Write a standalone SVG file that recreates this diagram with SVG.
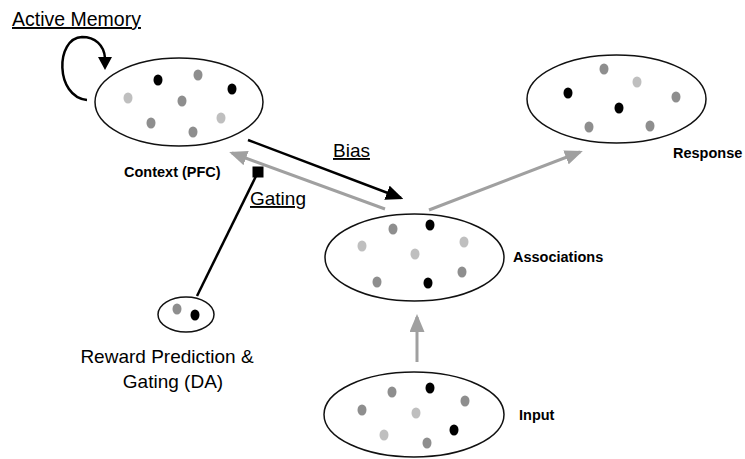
<svg xmlns="http://www.w3.org/2000/svg" width="745" height="459" viewBox="0 0 745 459">
<style>
.pool{fill:#fff;stroke:#111;stroke-width:1.5}
.k{fill:#000}.g{fill:#8e8e8e}.l{fill:#bfbfbf}
.lbl{font-family:"Liberation Sans",Arial,sans-serif;font-weight:bold;font-size:14.5px;fill:#000}
.ul{font-family:"Liberation Sans",Arial,sans-serif;font-size:19px;fill:#000;text-decoration:underline}
.txt{font-family:"Liberation Sans",Arial,sans-serif;font-size:19px;fill:#000}
.gl{stroke:#a0a0a0;stroke-width:3;fill:none}
.bl{stroke:#000;stroke-width:2.5;fill:none}
</style>
<defs>
<marker id="ag" markerWidth="6" markerHeight="5" refX="5" refY="2.5" orient="auto" markerUnits="strokeWidth"><path d="M0,0 L6,2.5 L0,5 Z" fill="#a0a0a0"/></marker>
<marker id="ab" markerWidth="7" markerHeight="6" refX="6" refY="3" orient="auto" markerUnits="strokeWidth"><path d="M0,0 L7,3 L0,6 Z" fill="#000"/></marker>
</defs>
<g id="connectors">
<path class="gl" d="M385,209 L232,153" marker-end="url(#ag)"/>
<path class="gl" d="M429,210 L580,152" marker-end="url(#ag)"/>
<path class="gl" d="M417,362 L417,317" marker-end="url(#ag)"/>
<path class="bl" d="M248,140 L401,198" marker-end="url(#ab)"/>
<path class="bl" d="M197,296 L258,172"/>
<rect x="252.5" y="166.5" width="11" height="11" fill="#000"/>
<path class="bl" d="M87,100 C55,97 55,38 82,37 C95,37 104,45 105,58"/>
<path d="M98,57 L112,57 L105,70 Z" fill="#000"/>
</g>
<g id="context">
<ellipse class="pool" cx="179" cy="102" rx="84" ry="44"/>
<ellipse class="k" cx="158" cy="80" rx="4.5" ry="5.5"/>
<ellipse class="g" cx="198" cy="75" rx="4.5" ry="5.5"/>
<ellipse class="k" cx="232" cy="89" rx="4.5" ry="5.5"/>
<ellipse class="l" cx="128" cy="98" rx="4.5" ry="5.5"/>
<ellipse class="g" cx="182" cy="101" rx="4.5" ry="5.5"/>
<ellipse class="g" cx="151" cy="123" rx="4.5" ry="5.5"/>
<ellipse class="l" cx="221" cy="118" rx="4.5" ry="5.5"/>
<ellipse class="g" cx="193" cy="132" rx="4.5" ry="5.5"/>
<text class="lbl" x="124" y="177">Context (PFC)</text>
</g>
<g id="active-memory">
<text class="ul" x="12" y="26" style="font-size:19.5px">Active Memory</text>
</g>
<g id="response">
<ellipse class="pool" cx="616.5" cy="99" rx="89.5" ry="44"/>
<ellipse class="g" cx="604" cy="69" rx="4.5" ry="5.5"/>
<ellipse class="l" cx="637" cy="82" rx="4.5" ry="5.5"/>
<ellipse class="k" cx="568" cy="93" rx="4.5" ry="5.5"/>
<ellipse class="g" cx="676" cy="97" rx="4.5" ry="5.5"/>
<ellipse class="k" cx="619" cy="108" rx="4.5" ry="5.5"/>
<ellipse class="g" cx="589" cy="127" rx="4.5" ry="5.5"/>
<ellipse class="g" cx="650" cy="126" rx="4.5" ry="5.5"/>
<text class="lbl" x="673" y="158">Response</text>
</g>
<g id="associations">
<ellipse class="pool" cx="414.5" cy="257.5" rx="89.5" ry="43.5"/>
<ellipse class="g" cx="393" cy="229" rx="4.5" ry="5.5"/>
<ellipse class="k" cx="430" cy="225" rx="4.5" ry="5.5"/>
<ellipse class="l" cx="362" cy="246" rx="4.5" ry="5.5"/>
<ellipse class="l" cx="464" cy="242" rx="4.5" ry="5.5"/>
<ellipse class="l" cx="415" cy="254" rx="4.5" ry="5.5"/>
<ellipse class="g" cx="462" cy="272" rx="4.5" ry="5.5"/>
<ellipse class="g" cx="377" cy="282" rx="4.5" ry="5.5"/>
<ellipse class="k" cx="428" cy="283" rx="4.5" ry="5.5"/>
<text class="lbl" x="513" y="262">Associations</text>
</g>
<g id="input">
<ellipse class="pool" cx="414" cy="414.5" rx="90" ry="42.5"/>
<ellipse class="g" cx="392" cy="392" rx="4.5" ry="5.5"/>
<ellipse class="k" cx="430" cy="388" rx="4.5" ry="5.5"/>
<ellipse class="g" cx="465" cy="401" rx="4.5" ry="5.5"/>
<ellipse class="g" cx="362" cy="410" rx="4.5" ry="5.5"/>
<ellipse class="l" cx="416" cy="413" rx="4.5" ry="5.5"/>
<ellipse class="k" cx="454" cy="430" rx="4.5" ry="5.5"/>
<ellipse class="l" cx="384" cy="435" rx="4.5" ry="5.5"/>
<ellipse class="g" cx="427" cy="443" rx="4.5" ry="5.5"/>
<text class="lbl" x="519" y="420">Input</text>
</g>
<g id="reward">
<ellipse class="pool" cx="186" cy="314.5" rx="28" ry="17.5"/>
<ellipse class="g" cx="177" cy="309" rx="4.5" ry="5.5"/>
<ellipse class="k" cx="195" cy="315" rx="4.5" ry="5.5"/>
<text class="txt" x="167" y="363" text-anchor="middle">Reward Prediction &amp;</text>
<text class="txt" x="173" y="388" text-anchor="middle">Gating (DA)</text>
</g>
<g id="labels">
<text class="ul" x="333" y="157">Bias</text>
<text class="ul" x="250" y="205">Gating</text>
</g>
</svg>
